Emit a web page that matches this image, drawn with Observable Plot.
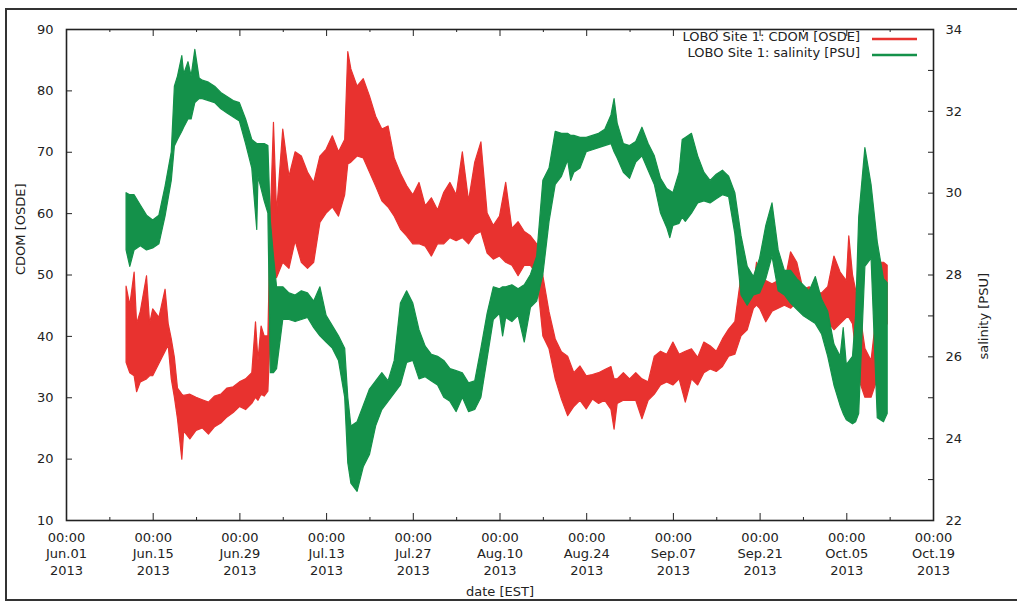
<!DOCTYPE html>
<html>
<head>
<meta charset="utf-8">
<script src="https://cdn.jsdelivr.net/npm/d3@7"></script>
<script src="https://cdn.jsdelivr.net/npm/@observablehq/plot@0.6"></script>
<style>
  html, body { margin: 0; padding: 0; background: #fff; }
  #wrap { position: relative; width: 1017px; height: 606px; overflow: hidden; }
  #border { position: absolute; left: 5px; top: 8px; width: 1040px; height: 593px; border: 2px solid #333; box-sizing: border-box; }
  #chart { position: absolute; left: 0; top: 0; }
</style>
</head>
<body>
<div id="wrap"><div id="border"></div><div id="chart"></div></div>
<script>
// ---- Data. Days are counted from 2013-06-01 00:00 EST ----
const seriesNames = ["LOBO Site 1: CDOM [OSDE]", "LOBO Site 1: salinity [PSU]"];

// CDOM [OSDE] envelope (low / high of the noisy trace)
const cdomDay = [9.7,10.3,11,11.4,12,13,13.5,14,15,16,16.5,17,17.5,18,18.7,19,20,21,22,23,24,25,26,27,28,29,30,30.6,31,31.5,32,32.6,33,33.5,34,35,36,37,38,39,40,41,42,43,44,45,45.5,46,47,48,49,50,51,52,53,54,55,56,57,58,59,60,61,62,63,64,65,66,67,68,69,70,71,72,73,74,75,76,77,78,79,80,81,82,83,84,85,86,87,88,88.5,89,90,91,92,93,94,95,96,97,98,99,100,101,102,103,104,105,106,107,108,109,110,111,111.5,112,113,114,115,116,117,118,119,120,121,122,123,124,125,126,126.4,127,128,129,130,131,131.5,132,132.6];
const cdomHi  = [48.1,45,50.4,42,44,49.8,42,44.4,43,47.6,42,39.5,36.5,31.5,30.5,30.3,30.5,30.0,29.6,29.2,30.2,30.5,31.5,31.7,32.5,33.0,34.0,42.3,36,41.6,40,40,59.5,74.8,60,73.7,66,70,69.3,66.7,65,69.3,70.4,72.6,70,72,86.3,83.5,80.7,81.9,79.1,75.8,73.7,74.2,69,66.5,64.5,63,65,61.2,62.5,60.5,63.4,65,63,70,62,68.3,71.6,60,58,59.5,65,57.5,58.6,57,56.3,55,49.8,43.9,39.5,37.4,36.7,34,35.1,33.5,33.7,34,34.5,35,33,33,34,33,34,33,32.5,36.7,37.5,37,39,37,37.5,37.9,36.5,39,38.4,37.5,39.5,41.1,42.3,49.8,47,48,52,49.3,49,48.5,49,48.5,53.7,52,47.6,48,47,47,48,53,50.4,49,56.3,50,45,38,36,45,52,52,51.5];
const cdomLo  = [35.7,34,33.5,30.9,32.5,33,33.5,33.5,35.5,37.5,38.5,33,30,26.5,19.9,24.5,23.2,24.6,25.0,24.0,25.2,25.8,26.8,27.5,28.5,28.0,29.0,30,29.5,30.5,30.2,31,41,50.5,49.5,52,51,55.5,52,51,52,58.5,60,61,59.5,63,68,68.3,69.3,69,66.7,64.4,62,61,59.5,57.4,56.3,55,55,54.6,53,55,55,56,55.5,56,55,56.5,57,53.5,52.5,53,52,51.5,49.8,51.5,51.5,50,40,37.9,33,29.7,27,28.5,29.5,28.1,29.7,29,29.5,28,24.8,29,29.5,29.5,29.5,26.5,29.5,30.5,32,32.5,32,33,29.2,33,32,34,34.6,34.2,35,36.7,37,40,41,44.5,45,44.5,42.3,44,44.5,45,44.5,45.5,44.5,44.5,44,43.5,42.3,41,42,43,43,42,33,30,30,33,43,41,42];

// Salinity [PSU] envelope (low / high of the noisy trace)
const salDay = [9.7,10.3,11,12,13,14,15,16,17,17.5,18,18.7,19,19.7,20.2,20.8,21.5,22,23,24,25,26,27,28,29,30,30.8,31,32,32.6,33,33.5,34,35,36,37,38,39,40,41,42,43,44,45,45.5,46,47,48,49,50,51,52,53,54,55,56,57,58,59,60,61,62,63,64,65,66,67,68,69,70,70.5,71,72,73,74,75,76,77,78,79,80,81,81.5,82,83,84,85,86,87,88,88.5,89,90,91,92,93,94,95,96,97,97.5,98,99,99.5,100,101,102,103,104,105,106,107,108,109,110,111,112,113,114,115,116,117,118,119,120,121,122,123,124,125,125.5,126,127,127.5,128,129,130,131,132,132.6];
const salHi  = [30.0,29.95,29.95,29.7,29.45,29.33,29.45,30.16,31.0,32.6,32.85,33.35,32.9,33.2,32.85,33.5,32.8,32.75,32.7,32.6,32.45,32.35,32.25,32.2,31.8,31.3,31.2,31.2,31.2,31.15,29.3,28.45,27.7,27.7,27.55,27.5,27.6,27.55,27.35,27.7,27.0,26.75,26.5,26.2,25.0,24.3,24.4,24.8,25.2,25.4,25.6,25.4,25.9,27.3,27.6,27.3,26.65,26.25,26.05,26.0,25.9,25.7,25.65,25.6,25.35,25.4,26.2,27.05,27.7,27.65,27.7,27.7,27.75,27.65,27.75,28.0,28.45,30.3,30.6,31.5,31.45,31.45,31.4,31.4,31.35,31.35,31.4,31.45,31.55,31.9,32.3,31.7,31.2,31.15,31.25,31.6,31.2,30.9,30.35,30.1,30.05,30.0,30.5,31.3,31.35,31.45,30.9,30.5,30.3,30.45,30.55,30.4,30.0,28.95,28.2,27.95,28.4,29.2,29.75,28.6,28.1,28.1,27.9,27.75,27.6,27.95,27.4,27.1,26.3,26.0,26.7,25.8,26.0,27.0,29.4,31.1,30.2,28.8,27.9,27.8];
const salLo  = [28.6,28.2,28.6,28.7,28.6,28.65,28.75,29.43,30.3,31.14,31.3,31.5,31.6,31.8,31.8,32.2,32.3,32.3,32.25,32.2,32.05,31.95,31.85,31.75,31.2,30.6,29.1,30.4,29.8,29.5,25.6,25.6,25.7,26.9,26.9,26.85,26.9,26.95,26.7,26.5,26.35,26.2,25.9,25.0,23.4,22.9,22.7,23.3,23.6,24.3,24.7,24.9,25.1,25.3,25.85,25.9,25.45,25.5,25.4,25.3,25.0,24.9,24.65,25.0,24.65,24.7,25.0,25.95,26.9,27.05,26.5,26.95,26.85,27.0,26.35,27.2,27.35,28.0,29.3,30.2,30.4,30.8,30.3,30.5,30.6,31.0,31.05,31.1,31.15,31.2,31.0,30.85,30.5,30.35,30.75,30.9,30.55,30.2,29.5,29.15,28.9,29.2,29.25,29.4,29.3,29.5,29.75,29.8,29.75,29.85,29.95,29.9,29.0,27.5,27.25,27.5,27.55,27.9,28.45,27.6,27.5,27.3,27.15,27.0,26.9,26.8,26.55,26.0,25.3,24.8,24.6,24.45,24.35,24.4,24.6,28.2,28.4,24.5,24.4,24.6];

// Axes
const cdomTicks = [10, 20, 30, 40, 50, 60, 70, 80, 90];
const salTicks = [22, 23, 24, 25, 26, 27, 28, 29, 30, 31, 32, 33, 34];
const salLabels = [22, 24, 26, 28, 30, 32, 34];
const xMajorDays = [0, 14, 28, 42, 56, 70, 84, 98, 112, 126, 140];
const xMinorDays = [7, 21, 35, 49, 63, 77, 91, 105, 119, 133];
const axisTitles = { left: "CDOM [OSDE]", right: "salinity [PSU]", bottom: "date [EST]" };

// ---- Helpers ----
const RED = "#e8322f", GREEN = "#14914a", INK = "#222";
const t0 = Date.UTC(2013, 5, 1);
const toDate = d => new Date(t0 + d * 864e5);
// salinity (22..34) mapped onto the CDOM (10..90) scale for the secondary axis
const toY = s => 10 + (s - 22) * (80 / 12);
const fromY = y => 22 + (y - 10) * (12 / 80);

const cdomRows = cdomDay.map((d, i) => ({date: toDate(d), lo: cdomLo[i], hi: cdomHi[i]}));
const salRows = salDay.map((d, i) => ({date: toDate(d), lo: salLo[i], hi: salHi[i]}));

const W = 1017, H = 606, mL = 66, mR = 84, mT = 29, mB = 86;
const pw = W - mL - mR, ph = H - mT - mB;
const fmt = d3.utcFormat("%H:%M\n%b.%d\n%Y");

const chart = Plot.plot({
  width: W, height: H,
  marginLeft: mL, marginRight: mR, marginTop: mT, marginBottom: mB,
  style: {fontFamily: "'DejaVu Sans', sans-serif", fontSize: "13px", color: INK, background: "transparent", overflow: "visible"},
  x: {type: "utc", domain: [toDate(0), toDate(140)]},
  y: {domain: [10, 90]},
  marks: [
    Plot.areaY(cdomRows, {x: "date", y1: "lo", y2: "hi", fill: RED, stroke: RED, strokeWidth: 1.2}),
    Plot.areaY(salRows, {x: "date", y1: d => toY(d.lo), y2: d => toY(d.hi), fill: GREEN, stroke: GREEN, strokeWidth: 1.2}),
    Plot.frame({stroke: INK, strokeWidth: 1.6}),
    Plot.tickY(cdomTicks, {y: d => d, insetRight: pw - 6, stroke: INK}),
    Plot.tickY(salTicks.map(toY), {y: d => d, insetLeft: pw - 5, stroke: INK}),
    Plot.tickX(xMajorDays.map(toDate), {x: d => d, insetTop: ph - 7, stroke: INK}),
    Plot.tickX(xMinorDays.map(toDate), {x: d => d, insetTop: ph - 3, stroke: INK}),
    Plot.tickX(xMajorDays.map(toDate), {x: d => d, insetBottom: ph - 7, stroke: INK}),
    Plot.tickX(xMinorDays.map(toDate), {x: d => d, insetBottom: ph - 3, stroke: INK}),
    Plot.axisY(cdomTicks, {anchor: "left", tickSize: 0, tickPadding: 13, label: null}),
    Plot.axisY(salLabels.map(toY), {anchor: "right", tickSize: 0, tickPadding: 12, label: null, tickFormat: d => Math.round(fromY(d)).toString()}),
    Plot.axisX(xMajorDays.map(toDate), {anchor: "bottom", tickSize: 0, tickPadding: 10, label: null, tickFormat: fmt, lineHeight: 1.25}),
    Plot.text([axisTitles.left], {frameAnchor: "left", dx: -46, rotate: -90, fill: INK}),
    Plot.text([axisTitles.right], {frameAnchor: "right", dx: 50, dy: -2, rotate: -90, fill: INK}),
    Plot.text([axisTitles.bottom], {frameAnchor: "bottom", dy: 75, fill: INK})
  ]
});
document.getElementById("chart").appendChild(chart);

// Legend (inside the plot, top-right, as in the original)
const svg = d3.select(chart);
const leg = svg.append("g").attr("font-family", "'DejaVu Sans', sans-serif").attr("font-size", 13).attr("fill", INK);
[RED, GREEN].forEach((c, i) => {
  const y = 37 + i * 16;
  leg.append("text").attr("x", 860).attr("y", y).attr("dy", "0.32em").attr("text-anchor", "end").text(seriesNames[i]);
  leg.append("line").attr("x1", 872).attr("x2", 917).attr("y1", y + 2).attr("y2", y + 2).attr("stroke", c).attr("stroke-width", 2.5);
});
</script>
</body>
</html>
